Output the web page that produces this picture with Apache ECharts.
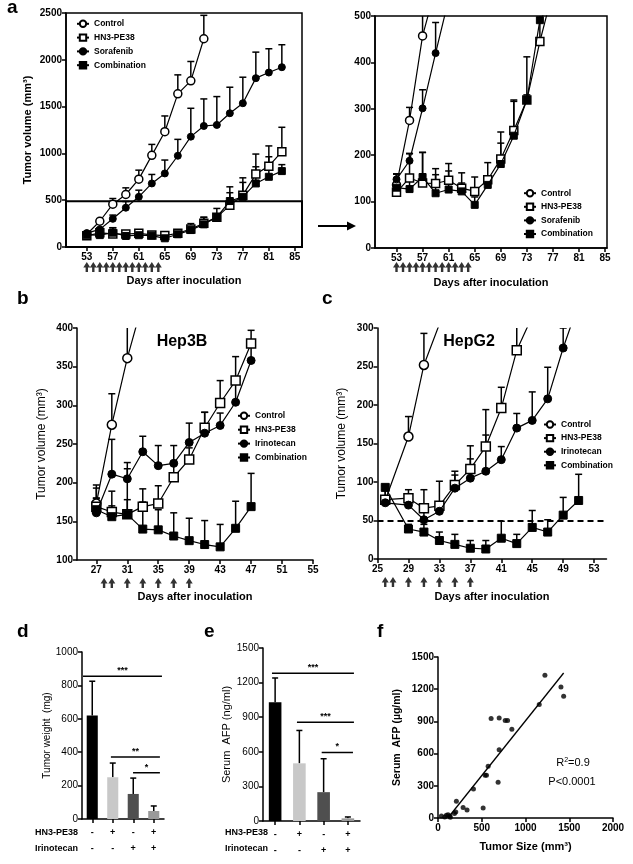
<!DOCTYPE html>
<html><head><meta charset="utf-8">
<script src="https://cdn.jsdelivr.net/npm/echarts@6.0.0/dist/echarts.min.js"></script>
<style>html,body{margin:0;padding:0;background:#fff}#c{width:633px;height:864px}</style>
</head><body><div id="c"></div>
<script>
// ---------- DATA ----------
// Panel a (days after inoculation)
const daysA = [53,55,57,59,61,63,65,67,69,71,73,75,77,79,81,83];
const ctrlA = [136,275,457,561,725,979,1232,1636,1775,2225];
const ctrlAErr = [150,303,518,632,821,1096,1400,1839,1982,2475];
const hn3A = [120,151,140,139,146,129,122,147,192,253,319,445,554,779,864,1018];
const hn3AErr = [159,203,206,171,182,162,153,184,250,319,412,643,739,993,1080,1279];
const sorA = [148,188,301,420,536,679,786,975,1179,1293,1304,1429,1536,1804,1864,1921];
const sorAErr = [160,204,341,486,607,775,929,1150,1482,1582,1607,1707,1814,2082,2118,2161];
const combA = [130,127,153,118,126,122,93,136,181,242,319,491,536,679,750,811];
const combAErr = [160,158,206,158,166,140,110,150,226,316,330,580,690,857,964,880];
const treatDaysA = [53,54,55,56,57,58,59,60,61,62,63,64];
const zoomBoxTopA = 490;
const ticksA = [53,57,61,65,69,73,77,81,85];
const namesA = ['Control','HN3-PE38','Sorafenib','Combination'];

// Panel b (Hep3B)
const daysB = [27,29,31,33,35,37,39,41,43,45,47];
const ctrlB = [173,275,361,433];
const ctrlBErr = [193,315,420,470];
const hn3B = [169,162,159,169,173,207,230,271,303,332,380];
const hn3BErr = [197,189,218,192,196,224,245,291,332,363,397];
const iriB = [161,211,205,240,222,225,252,264,274,304,358];
const iriBErr = [180,256,226,260,248,248,277,291,290,330,375];
const combB = [165,156,159,140,139,131,125,120,117,141,169];
const combBErr = [180,170,178,175,165,161,154,151,146,176,212];
const treatDaysB = [28,29,31,33,35,37,39];
const ticksB = [27,31,35,39,43,47,51,55];
const namesB = ['Control','HN3-PE38','Irinotecan','Combination'];

// Panel c (HepG2)
const daysC = [26,29,31,33,35,37,39,41,43,45,47,49,51];
const ctrlC = [76,159,252,305];
const ctrlCErr = [90,185,293,340];
const hn3C = [77,79,66,69,96,117,146,196,271,315];
const hn3CErr = [95,90,90,101,114,147,194,223,320,350];
const iriC = [73,70,51,62,92,105,114,129,170,180,208,274,332];
const iriCErr = [80,80,62,70,109,130,161,146,189,217,249,300,360];
const combC = [93,39,35,24,19,14,13,27,20,41,35,57,76];
const combCErr = [95,45,45,35,32,24,24,49,32,63,51,80,110];
const treatDaysC = [26,27,29,31,33,35,37];
const ticksC = [25,29,33,37,41,45,49,53];
const thresholdC = 50;

// Panel d / e (bars)
const groups = ['Control','HN3-PE38','Irinotecan','Combination'];
const hn3Signs = ['-','+','-','+'];
const iriSigns = ['-','-','+','+'];
const weightD = [620,250,150,48];
const weightDErr = [825,335,245,78];
const afpE = [1030,500,250,23];
const afpEErr = [1240,785,540,35];
const sigD = [[-0.45,3.4,855,'***'],[0.91,3.3,372,'**'],[1.99,3.3,277,'*']];
const sigE = [[-0.13,3.25,1280,'***'],[0.9,3.25,857,'***'],[1.92,3.21,594,'*']];

// Panel f (scatter)
const tumorSize = [1222,1405,1436,1157,607,699,768,795,844,699,573,538,554,687,405,210,287,332,516,203,188,39,96,115,134,141,77];
const serumAFP = [1330,1221,1134,1057,926,932,908,908,827,637,482,398,398,333,270,156,97,75,93,56,41,19,25,31,19,7,9];
const fitX = [113,1436];
const fitY = [0,1351];

// ---------- HELPERS ----------
const FF = 'Liberation Sans, Arial, Helvetica, sans-serif';
const zip = (xs, ys) => ys.map((y, i) => [xs[i], y]);
const zip3 = (xs, ys, es) => ys.map((y, i) => [xs[i], y, es[i]]);
const BLK = '#000';
const plain = v => String(v);

function errRender(capW) {
  return function (params, api) {
    const x = api.value(0), y = api.value(1), t = api.value(2);
    const p0 = api.coord([x, y]), p1 = api.coord([x, t]);
    const st = {stroke: BLK, lineWidth: 1.5};
    return {type: 'group', children: [
      {type: 'line', shape: {x1: p0[0], y1: p0[1], x2: p1[0], y2: p1[1]}, style: st},
      {type: 'line', shape: {x1: p1[0] - capW / 2, y1: p1[1], x2: p1[0] + capW / 2, y2: p1[1]}, style: st}
    ]};
  };
}
function sigRender(list) {
  return function (params, api) {
    const s = list[params.dataIndex];
    const a = api.coord([s[0], s[2]]), b = api.coord([s[1], s[2]]);
    return {type: 'group', children: [
      {type: 'line', shape: {x1: a[0], y1: a[1], x2: b[0], y2: b[1]}, style: {stroke: BLK, lineWidth: 1.5}},
      {type: 'text', style: {x: (a[0] + b[0]) / 2, y: a[1] - 1, text: s[3], fill: BLK, font: 'bold 9px ' + FF, align: 'center', verticalAlign: 'bottom'}}
    ]};
  };
}

const markerStyles = {
  'Control': {symbol: 'circle', itemStyle: {color: '#fff', borderColor: BLK, borderWidth: 1.5}},
  'HN3-PE38': {symbol: 'rect', itemStyle: {color: '#fff', borderColor: BLK, borderWidth: 1.5}},
  'Sorafenib': {symbol: 'circle', itemStyle: {color: BLK, borderColor: BLK, borderWidth: 1}},
  'Irinotecan': {symbol: 'circle', itemStyle: {color: BLK, borderColor: BLK, borderWidth: 1}},
  'Combination': {symbol: 'rect', itemStyle: {color: BLK, borderColor: BLK, borderWidth: 1}}
};

function groupSeries(axisIdx, days, sets, symSize) {
  const out = [];
  sets.forEach(([name, vals, errs]) => {
    out.push({type: 'custom', name: 'err_' + name + axisIdx, xAxisIndex: axisIdx, yAxisIndex: axisIdx,
      renderItem: errRender(7), data: zip3(days, vals, errs), encode: {x: 0, y: 1}, clip: true, z: 1, silent: true});
  });
  sets.forEach(([name, vals], k) => {
    const ms = markerStyles[name];
    const sz = (name === 'Control' || name === 'HN3-PE38') ? symSize : symSize - 1;
    out.push({type: 'line', name: name, xAxisIndex: axisIdx, yAxisIndex: axisIdx,
      data: zip(days, vals), symbol: ms.symbol, symbolSize: sz, showAllSymbol: true,
      itemStyle: ms.itemStyle, lineStyle: {color: BLK, width: 1.2}, clip: true, z: 3 + k, silent: true});
  });
  return out;
}

function arrowSeries(axisIdx, days) {
  return {type: 'scatter', xAxisIndex: axisIdx, yAxisIndex: axisIdx - 2,
    data: days.map(d => [d, 0.5]), symbol: 'path://M35,0 L70,55 L47,55 L47,100 L23,100 L23,55 L0,55 Z',
    symbolSize: [7, 10], itemStyle: {color: BLK}, silent: true};
}

const axLine = {show: true, onZero: false, lineStyle: {color: BLK, width: 1.5}};
const axTick = {show: true, length: 4, lineStyle: {color: BLK, width: 1.5}};
function lbl(size, weight, extra) { return Object.assign({color: BLK, fontSize: size, fontWeight: weight, fontFamily: FF, margin: 5, formatter: plain}, extra || {}); }
function nameStyle(size, weight) { return {color: BLK, fontSize: size, fontWeight: weight, fontFamily: FF}; }

function dayAxis(grid, min, max, ticks, nameGap) {
  return {type: 'value', gridIndex: grid, min: min, max: max,
    axisLine: axLine, axisTick: Object.assign({}, axTick, {customValues: ticks}),
    axisLabel: lbl(10, 'bold', {customValues: ticks}), splitLine: {show: false},
    name: 'Days after inoculation', nameLocation: 'middle', nameGap: nameGap, nameTextStyle: nameStyle(11, 'bold')};
}
function valY(grid, min, max, interval, name, nameGap, nsize, nweight, lsize, lweight) {
  return {type: 'value', gridIndex: grid, min: min, max: max, interval: interval,
    axisLine: axLine, axisTick: axTick, axisLabel: lbl(lsize || 10, lweight || 'bold', {margin: 4}), splitLine: {show: false},
    name: name || '', nameLocation: 'middle', nameRotate: 90, nameGap: nameGap || 30,
    nameTextStyle: nameStyle(nsize || 11, nweight || 'bold')};
}
function hiddenX(grid, min, max) { return {type: 'value', gridIndex: grid, min: min, max: max, show: false}; }
function hiddenY(grid) { return {type: 'value', gridIndex: grid, min: 0, max: 1, show: false}; }
function catAxis(grid) {
  return {type: 'category', gridIndex: grid, data: groups, axisLine: axLine,
    axisTick: Object.assign({}, axTick, {alignWithLabel: true}),
    axisLabel: {color: BLK, fontSize: 9, fontWeight: 'bold', fontFamily: FF, margin: 6, lineHeight: 16,
      formatter: (v, i) => hn3Signs[i] + '\n' + iriSigns[i]}};
}

const legendBase = {orient: 'vertical', padding: 0, itemWidth: 12, itemHeight: 8,
  textStyle: {fontSize: 8.5, fontWeight: 'bold', fontFamily: FF, color: BLK, lineHeight: 8}, selectedMode: false};

const mainTitleYA = 'Tumor volume (mm\u00b3)';

const option = {
  animation: false,
  backgroundColor: '#fff',
  grid: [
    {left: 66, top: 13, width: 236, height: 234, show: true, borderColor: BLK, borderWidth: 1.5},
    {left: 375, top: 16, width: 232, height: 232, show: true, borderColor: BLK, borderWidth: 1.5},
    {left: 77, top: 328, width: 236, height: 232},
    {left: 377.5, top: 328, width: 229, height: 231},
    {left: 82, top: 652, width: 82, height: 167},
    {left: 263, top: 648, width: 97, height: 173},
    {left: 438, top: 657, width: 175, height: 161},
    {left: 66, top: 261, width: 236, height: 12},
    {left: 375, top: 261, width: 232, height: 12},
    {left: 77, top: 577, width: 236, height: 12},
    {left: 377.5, top: 576, width: 229, height: 12}
  ],
  xAxis: [
    dayAxis(0, 49.8, 86.1, ticksA, 28),
    dayAxis(1, 49.7, 85.3, ticksA, 29),
    dayAxis(2, 24.5, 55, ticksB, 31),
    dayAxis(3, 25, 54.6, ticksC, 32),
    catAxis(4),
    hiddenX(4, -0.5, 3.5),
    catAxis(5),
    hiddenX(5, -0.5, 3.5),
    {type: 'value', gridIndex: 6, min: 0, max: 2000, interval: 500, axisLine: axLine, axisTick: axTick,
      axisLabel: lbl(10, 'bold'), splitLine: {show: false}, name: 'Tumor Size (mm\u00b3)', nameLocation: 'middle',
      nameGap: 23, nameTextStyle: nameStyle(11, 'bold')},
    hiddenX(7, 49.8, 86.1),
    hiddenX(8, 49.7, 85.3),
    hiddenX(9, 24.5, 55),
    hiddenX(10, 25, 54.6)
  ],
  yAxis: [
    valY(0, 0, 2500, 500, mainTitleYA, 33, 11, 'bold'),
    valY(1, 0, 500, 100, '', 30),
    valY(2, 100, 400, 50, mainTitleYA, 29, 12, 'normal'),
    valY(3, 0, 300, 50, mainTitleYA, 30, 12, 'normal'),
    valY(4, 0, 1000, 200, 'Tumor weight  (mg)', 27, 10, 'normal', 10, 'normal'),
    valY(5, 0, 1500, 300, 'Serum  AFP (ng/ml)', 28, 11, 'normal', 10, 'normal'),
    valY(6, 0, 1500, 300, 'Serum  AFP (\u00b5g/ml)', 35, 10.5, 'bold', 10, 'bold'),
    hiddenY(7), hiddenY(8), hiddenY(9), hiddenY(10)
  ],
  legend: [
    Object.assign({}, legendBase, {data: namesA, left: 76, top: 19.3, itemGap: 4.8}),
    Object.assign({}, legendBase, {data: namesA, left: 523, top: 188.7, itemGap: 4.6}),
    Object.assign({}, legendBase, {data: namesB, left: 237, top: 411.3, itemGap: 4.9}),
    Object.assign({}, legendBase, {data: namesB, left: 543, top: 420, itemGap: 4.6})
  ],
  series: [].concat(
    groupSeries(0, daysA, [['Control', ctrlA, ctrlAErr], ['HN3-PE38', hn3A, hn3AErr], ['Sorafenib', sorA, sorAErr], ['Combination', combA, combAErr]], 8),
    groupSeries(1, daysA, [['Control', ctrlA, ctrlAErr], ['HN3-PE38', hn3A, hn3AErr], ['Sorafenib', sorA, sorAErr], ['Combination', combA, combAErr]], 8),
    groupSeries(2, daysB, [['Control', ctrlB, ctrlBErr], ['HN3-PE38', hn3B, hn3BErr], ['Irinotecan', iriB, iriBErr], ['Combination', combB, combBErr]], 9),
    groupSeries(3, daysC, [['Control', ctrlC, ctrlCErr], ['HN3-PE38', hn3C, hn3CErr], ['Irinotecan', iriC, iriCErr], ['Combination', combC, combCErr]], 9),
    [
      {type: 'line', xAxisIndex: 0, yAxisIndex: 0, data: [], silent: true,
        markArea: {silent: true, itemStyle: {color: 'rgba(0,0,0,0)', borderColor: BLK, borderWidth: 2},
          data: [[{xAxis: 49.8, yAxis: 0}, {xAxis: 86.1, yAxis: zoomBoxTopA}]]}},
      {type: 'line', xAxisIndex: 3, yAxisIndex: 3, data: [], silent: true,
        markLine: {silent: true, symbol: 'none', label: {show: false}, lineStyle: {color: BLK, type: [6, 4], width: 2},
          data: [{yAxis: thresholdC}]}},
      arrowSeries(9, treatDaysA),
      arrowSeries(10, treatDaysA),
      arrowSeries(11, treatDaysB),
      arrowSeries(12, treatDaysC),
      {type: 'bar', xAxisIndex: 4, yAxisIndex: 4, barWidth: '54%', silent: true,
        data: weightD.map((v, i) => ({value: v, itemStyle: {color: ['#000', '#c8c8c8', '#4f4f4f', '#9a9a9a'][i]}}))},
      {type: 'custom', xAxisIndex: 4, yAxisIndex: 4, renderItem: errRender(6), silent: true,
        data: weightD.map((v, i) => [i, v, weightDErr[i]]), encode: {x: 0, y: 1}, z: 1},
      {type: 'custom', xAxisIndex: 5, yAxisIndex: 4, renderItem: sigRender(sigD), silent: true,
        data: sigD.map(s => [s[0], s[1], s[2]]), encode: {x: [0, 1], y: 2}},
      {type: 'bar', xAxisIndex: 6, yAxisIndex: 5, barWidth: '52%', silent: true,
        data: afpE.map((v, i) => ({value: v, itemStyle: {color: ['#000', '#c8c8c8', '#4f4f4f', '#9a9a9a'][i]}}))},
      {type: 'custom', xAxisIndex: 6, yAxisIndex: 5, renderItem: errRender(6), silent: true,
        data: afpE.map((v, i) => [i, v, afpEErr[i]]), encode: {x: 0, y: 1}, z: 1},
      {type: 'custom', xAxisIndex: 7, yAxisIndex: 5, renderItem: sigRender(sigE), silent: true,
        data: sigE.map(s => [s[0], s[1], s[2]]), encode: {x: [0, 1], y: 2}},
      {type: 'scatter', xAxisIndex: 8, yAxisIndex: 6, data: zip(tumorSize, serumAFP), symbolSize: 5,
        itemStyle: {color: BLK}, silent: true},
      {type: 'line', xAxisIndex: 8, yAxisIndex: 6, data: zip(fitX, fitY), symbol: 'none',
        lineStyle: {color: BLK, width: 1.3}, silent: true}
    ]
  ),
  graphic: [
    {type: 'text', style: {x: 7, y: 8, text: 'a', font: 'bold 19px ' + FF, fill: BLK, verticalAlign: 'middle'}},
    {type: 'text', style: {x: 17, y: 299, text: 'b', font: 'bold 19px ' + FF, fill: BLK, verticalAlign: 'middle'}},
    {type: 'text', style: {x: 322, y: 299, text: 'c', font: 'bold 19px ' + FF, fill: BLK, verticalAlign: 'middle'}},
    {type: 'text', style: {x: 17, y: 632, text: 'd', font: 'bold 19px ' + FF, fill: BLK, verticalAlign: 'middle'}},
    {type: 'text', style: {x: 204, y: 632, text: 'e', font: 'bold 19px ' + FF, fill: BLK, verticalAlign: 'middle'}},
    {type: 'text', style: {x: 377, y: 632, text: 'f', font: 'bold 19px ' + FF, fill: BLK, verticalAlign: 'middle'}},
    {type: 'text', style: {x: 182, y: 342, text: 'Hep3B', font: 'bold 16px ' + FF, fill: BLK, align: 'center', verticalAlign: 'middle'}},
    {type: 'text', style: {x: 469, y: 342, text: 'HepG2', font: 'bold 16px ' + FF, fill: BLK, align: 'center', verticalAlign: 'middle'}},
    {type: 'text', style: {x: 35, y: 833, text: 'HN3-PE38', font: 'bold 9px ' + FF, fill: BLK, verticalAlign: 'middle'}},
    {type: 'text', style: {x: 35, y: 849, text: 'Irinotecan', font: 'bold 9px ' + FF, fill: BLK, verticalAlign: 'middle'}},
    {type: 'text', style: {x: 225, y: 833, text: 'HN3-PE38', font: 'bold 9px ' + FF, fill: BLK, verticalAlign: 'middle'}},
    {type: 'text', style: {x: 225, y: 849, text: 'Irinotecan', font: 'bold 9px ' + FF, fill: BLK, verticalAlign: 'middle'}},
    {type: 'text', style: {x: 573, y: 763, text: 'R{s|2}=0.9', font: '11px ' + FF, fill: BLK, align: 'center', verticalAlign: 'middle',
      rich: {s: {fontSize: 7, verticalAlign: 'top', padding: [0, 0, 6, 0]}}}},
    {type: 'text', style: {x: 572, y: 782, text: 'P<0.0001', font: '11px ' + FF, fill: BLK, align: 'center', verticalAlign: 'middle'}},
    {type: 'line', shape: {x1: 318, y1: 226, x2: 350, y2: 226}, style: {stroke: BLK, lineWidth: 2}},
    {type: 'polygon', shape: {points: [[347, 221.5], [356, 226], [347, 230.5]]}, style: {fill: BLK}}
  ]
};

const chart = echarts.init(document.getElementById('c'), null, {renderer: 'canvas'});
chart.setOption(option);
</script>
</body></html>
